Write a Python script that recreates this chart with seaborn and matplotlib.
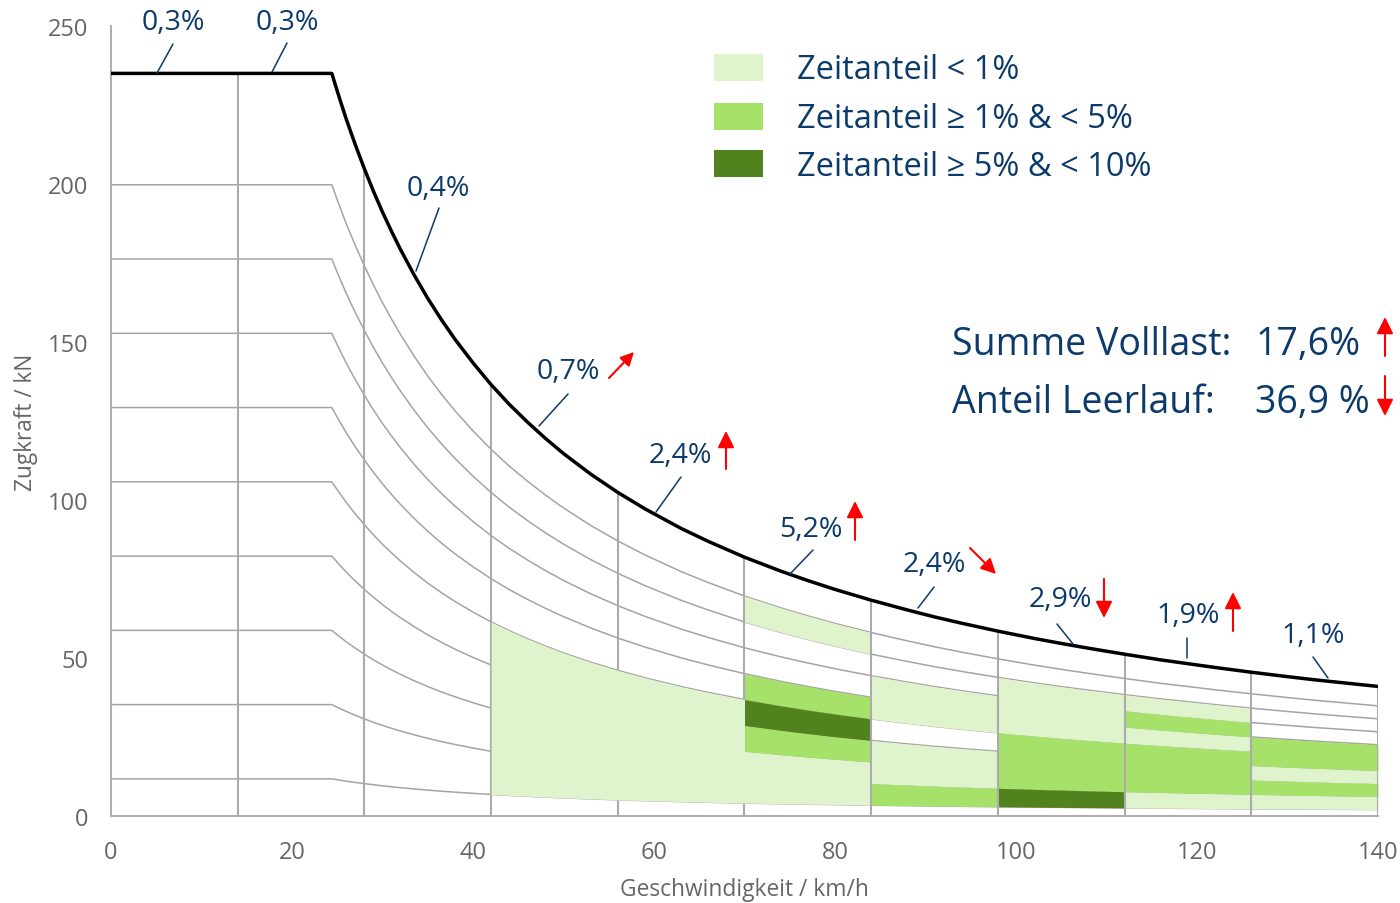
import numpy as np
import pandas as pd
import matplotlib
matplotlib.use("Agg")
import matplotlib.pyplot as plt
import seaborn as sns
from matplotlib.patches import Rectangle
from matplotlib.lines import Line2D

# ---------------- data ----------------
speed_kmh = [0, 14, 24.4, 25, 25.5, 26, 26.5, 27, 28, 29, 30, 31, 32, 33.5, 35, 36.5,
             38, 40, 42, 44, 46, 48, 50, 53, 56, 59, 63, 66, 70, 74, 77, 80, 84, 88,
             91, 94, 98, 102, 105, 108, 112, 116, 119, 122, 126, 130, 133, 136, 140]
full_load_kN = [235, 235, 235, 229.4, 224.9, 220.5, 216.4, 212.4, 204.8, 197.7, 191.1,
                185.0, 179.2, 171.2, 163.8, 157.1, 150.9, 143.4, 136.5, 130.3, 124.7,
                119.5, 114.7, 108.2, 102.4, 97.2, 91.0, 86.9, 81.9, 77.5, 74.5, 71.7,
                68.3, 65.2, 63.0, 61.0, 58.5, 56.2, 54.6, 53.1, 51.2, 49.4, 48.2, 47.0,
                45.5, 44.1, 43.1, 42.2, 41.0]
partial_load_levels = [0.05, 0.15, 0.25, 0.35, 0.45, 0.55, 0.65, 0.75, 0.85]
column_edges = [0, 14, 28, 42, 56, 70, 84, 98, 112, 126, 140]

# cells: (speed from, speed to, load fraction low, load fraction high)
cells_lt1 = [(42, 70, 0.05, 0.45), (70, 84, 0.05, 0.25), (70, 84, 0.75, 0.85),
             (84, 98, 0.15, 0.35), (84, 98, 0.45, 0.65), (98, 112, 0.45, 0.75),
             (112, 126, 0.05, 0.15), (112, 126, 0.45, 0.55), (112, 126, 0.65, 0.75),
             (126, 140, 0.05, 0.15), (126, 140, 0.25, 0.35)]
cells_1to5 = [(70, 84, 0.25, 0.35), (70, 84, 0.45, 0.55), (84, 98, 0.05, 0.15),
              (98, 112, 0.15, 0.45), (112, 126, 0.15, 0.45), (112, 126, 0.55, 0.65),
              (126, 140, 0.15, 0.25), (126, 140, 0.35, 0.55)]
cells_5to10 = [(70, 84, 0.35, 0.45), (98, 112, 0.05, 0.15)]

share_labels = ["0,3%", "0,3%", "0,4%", "0,7%", "2,4%", "5,2%", "2,4%", "2,9%", "1,9%", "1,1%"]
share_trend = [None, None, None, "upright", "up", "up", "downright", "down", "up", None]

legend_labels = ["Zeitanteil < 1%", "Zeitanteil \u2265 1% & < 5%", "Zeitanteil \u2265 5% & < 10%"]
summary_labels = ["Summe Volllast:", "Anteil Leerlauf:"]
summary_values = ["17,6%", "36,9 %"]
summary_trend = ["up", "down"]

x_ticks = [0, 20, 40, 60, 80, 100, 120, 140]
y_ticks = [0, 50, 100, 150, 200, 250]

# ---------------- style ----------------
sns.set_theme(style="white")
plt.rcParams["font.family"] = ["Open Sans", "DejaVu Sans"]

NAVY = "#0B3A6B"
GREY_TXT = "#666666"
C_LIGHT = "#DFF4CD"
C_MED = "#A6E16A"
C_DARK = "#52821E"
LINE_GREY = "#A4A4A4"

W, H = 1400, 904
fig = plt.figure(figsize=(W / 100, H / 100), dpi=100)
ax = fig.add_axes([111 / W, 1 - 817 / H, (1378 - 111) / W, (817 - 27) / H])

v = np.array(speed_kmh, dtype=float)
F = np.array(full_load_kN, dtype=float)

full_df = pd.DataFrame({"v": v, "F": F})
partial_df = pd.concat(
    [pd.DataFrame({"v": v, "F": F * lvl, "level": lvl}) for lvl in partial_load_levels],
    ignore_index=True)

# partial load lines
sns.lineplot(data=partial_df, x="v", y="F", units="level", estimator=None, sort=False,
             color=LINE_GREY, lw=1.1, ax=ax, zorder=2)

# vertical column lines
for e in column_edges[1:]:
    top = F[np.where(v == e)[0][0]]
    ax.vlines(e, 0, top, color="#ABABAB", lw=1.5, zorder=4)

# filled cells
for cells, col in [(cells_lt1, C_LIGHT), (cells_1to5, C_MED), (cells_5to10, C_DARK)]:
    for a, b, lo, hi in cells:
        m = (v >= a) & (v <= b)
        z = 5 if (b - a) > 14 else 3
        ax.fill_between(v[m], F[m] * lo, F[m] * hi, color=col, lw=0, zorder=z)

# full load curve
sns.lineplot(data=full_df, x="v", y="F", estimator=None, sort=False,
             color="black", lw=2.5, ax=ax, zorder=6)

ax.set_xlim(0, 140)
ax.set_ylim(0, 250)
ax.set_xticks(x_ticks)
ax.set_yticks(y_ticks)
ax.tick_params(axis="both", length=0, labelsize=17, colors=GREY_TXT)
ax.tick_params(axis="y", pad=16.5)
ax.tick_params(axis="x", pad=17.5)
for s in ["top", "right"]:
    ax.spines[s].set_visible(False)
for s in ["left", "bottom"]:
    ax.spines[s].set_color("#AFAFAF")
    ax.spines[s].set_linewidth(1.5)
ax.set_xlabel("Geschwindigkeit / km/h", fontsize=16.4, color=GREY_TXT)
ax.set_ylabel("Zugkraft / kN", fontsize=16.3, color=GREY_TXT)
ax.xaxis.set_label_coords(0.5, -0.077)
ax.yaxis.set_label_coords(-0.058, 0.5)


def fx(px):
    return px / W


def fy(py):
    return 1 - py / H


def arrow(tail, head, scale=10):
    ax.annotate("", xy=(head[0], H - head[1]), xytext=(tail[0], H - tail[1]),
                xycoords="figure pixels", textcoords="figure pixels",
                arrowprops=dict(arrowstyle="-|>,head_length=1.0,head_width=0.5",
                                mutation_scale=scale, color="#FF0000", lw=1.5,
                                shrinkA=0, shrinkB=0), annotation_clip=False)


# share labels with leader lines
label_pos = [(173, 29.5), (287, 29.5), (438, 196), (568, 379), (680, 463),
             (811, 537), (934, 572), (1060, 607), (1188, 623), (1313, 643)]
leader = [((173, 45), (157, 74)), ((287, 44), (272, 73)), ((439, 209), (416, 272)),
          ((568, 395), (539, 427)), ((681, 478), (656, 513)), ((813, 551), (790, 575)),
          ((934, 588), (918, 609)), ((1057, 625), (1073, 645)), ((1187, 639), (1187, 659)),
          ((1313, 658), (1328, 679))]
up_x = {4: 726, 5: 855, 8: 1233}
up_y = {4: (470, 432), 5: (541, 502), 8: (632, 593)}

for i, (txt, (px, py)) in enumerate(zip(share_labels, label_pos)):
    fig.text(fx(px), fy(py), txt, ha="center", va="baseline", fontsize=20.5, color=NAVY)
    (x0, y0), (x1, y1) = leader[i]
    fig.add_artist(Line2D([fx(x0), fx(x1)], [fy(y0), fy(y1)], transform=fig.transFigure,
                          color=NAVY, lw=1.1))
    t = share_trend[i]
    if t == "upright":
        arrow((609, 379), (634, 353), scale=8)
    elif t == "downright":
        arrow((970, 549), (996, 575), scale=9)
    elif t == "up":
        arrow((up_x[i], up_y[i][0]), (up_x[i], up_y[i][1]))
    elif t == "down":
        arrow((1104, 580), (1104, 619))

# legend
leg_rows = [(55, 81.7, 79.3), (104, 130.7, 128.3), (151, 177.7, 176)]
for (top, bot, base), lab, col in zip(leg_rows, legend_labels, [C_LIGHT, C_MED, C_DARK]):
    fig.add_artist(Rectangle((fx(714), fy(bot)), (763 - 714) / W, (bot - top) / H,
                             transform=fig.transFigure, color=col, lw=0))
    fig.text(fx(797), fy(base), lab, ha="left", va="baseline", fontsize=23.5, color=NAVY)

# summary
sum_rows = [(355, 1256), (413, 1255)]
for (base, vx), lab, val, t in zip(sum_rows, summary_labels, summary_values, summary_trend):
    fig.text(fx(952), fy(base), lab, ha="left", va="baseline", fontsize=27, color=NAVY)
    fig.text(fx(vx), fy(base), val, ha="left", va="baseline", fontsize=27, color=NAVY)
    if t == "up":
        arrow((1385, 357), (1385, 318))
    else:
        arrow((1385, 377), (1385, 417))

fig.savefig("out.png", dpi=100)
